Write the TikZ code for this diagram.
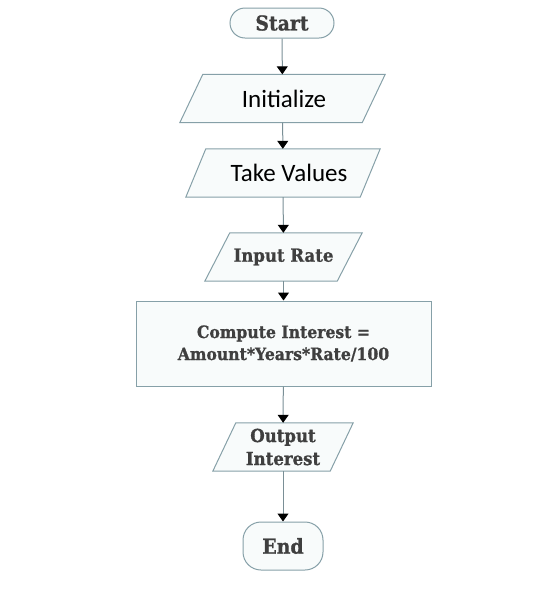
\documentclass[tikz,border=0pt]{standalone}
\usepackage{fontspec}
\setmainfont{Carlito}
\newfontfamily\slab[FakeStretch=0.92,FakeBold=1]{DejaVu Serif}
\usetikzlibrary{arrows.meta,calc}
\pgfdeclarelayer{bg}
\pgfsetlayers{bg,main}
\definecolor{edge}{HTML}{86A0A8}
\definecolor{boxfill}{HTML}{F8FBFB}
\definecolor{slabtext}{HTML}{3F3F3F}
\definecolor{wire}{HTML}{7A8F96}
\newcommand\drawio[2]{\begin{pgfonlayer}{bg}\draw[iobox] ($(#1.north west)+(#2,0)$) -- (#1.north east) -- ($(#1.south east)-(#2,0)$) -- (#1.south west) -- cycle;\end{pgfonlayer}}
\tikzset{
  iobox/.style={draw=edge, fill=boxfill, line width=1pt, line join=miter},
  ionode/.style={inner sep=0pt, minimum height=48pt},
  termnode/.style={draw=edge, fill=boxfill, line width=1pt, inner sep=0pt, text=slabtext, font=\slab\bfseries\fontsize{20.5}{24}\selectfont},
  procnode/.style={draw=edge, fill=boxfill, line width=1pt, inner sep=0pt, text=slabtext, align=center, font=\slab\bfseries\fontsize{17}{22}\selectfont},
  calibri/.style={font=\fontsize{25}{28}\selectfont, text=black},
  slabt/.style={text=slabtext, align=center, font=\slab\bfseries\fontsize{18}{23}\selectfont},
  flow/.style={draw=wire, line width=1pt, -{Triangle[width=11pt,length=8pt,color=black]}}
}
\begin{document}
\begin{tikzpicture}[x=1pt,y=1pt]
\useasboundingbox (0,0) rectangle (547,-606);
\node[termnode, rounded corners=15pt, minimum width=104pt, minimum height=30pt] (start) at (282,-23) {Start};
\node[ionode, calibri, minimum width=205pt] (init) at (282.5,-98.5) {\hspace*{3pt}Initialize};
\drawio{init}{23}
\node[ionode, calibri, minimum width=194pt] (take) at (283,-173) {\hspace*{12pt}Take Values};
\drawio{take}{20}
\node[ionode, slabt, minimum width=157pt] (rate) at (283.5,-257) {Input Rate};
\drawio{rate}{25}
\node[procnode, minimum width=295pt, minimum height=85pt] (comp) at (283.5,-343.5) {Compute Interest =\\Amount*Years*Rate/100};
\node[ionode, slabt, minimum width=140pt] (out) at (283,-447) {Output\\Interest};
\drawio{out}{23}
\node[termnode, rounded corners=18pt, minimum width=80pt, minimum height=48pt] (end) at (283,-546) {End};
\draw[flow] (start) -- (init);
\draw[flow] (init) -- (take);
\draw[flow] (take) -- (rate);
\draw[flow] (rate) -- (comp);
\draw[flow] (comp) -- (out);
\draw[flow] (out) -- (end);
\end{tikzpicture}
\end{document}
